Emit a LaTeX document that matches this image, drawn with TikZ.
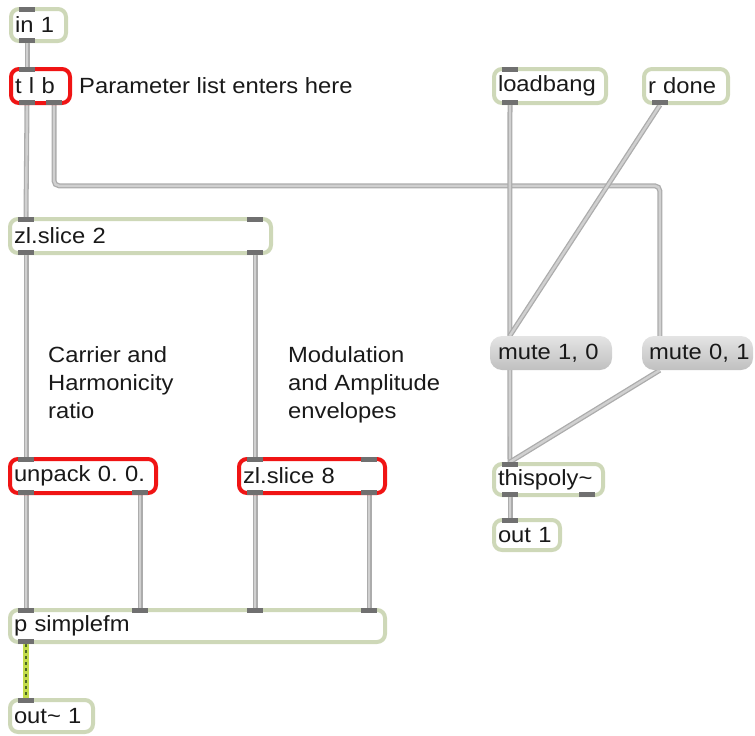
\documentclass[tikz,border=0pt]{standalone}
\usepackage{fontspec}
\setmainfont{Liberation Sans}[FakeStretch=1.08]
\usetikzlibrary{calc}
\pgfdeclarelayer{bg}
\pgfsetlayers{bg,main}
\definecolor{objedge}{RGB}{206,216,184}
\definecolor{redge}{RGB}{240,20,20}
\definecolor{tabc}{RGB}{112,112,112}
\definecolor{cordedge}{RGB}{172,172,172}
\definecolor{cordfill}{RGB}{208,208,208}
\definecolor{sigbase}{RGB}{195,220,75}
\definecolor{sigdash}{RGB}{75,105,35}
\definecolor{msgtop}{RGB}{228,228,228}
\definecolor{msgbot}{RGB}{192,192,192}
\definecolor{txt}{RGB}{25,25,25}
\frenchspacing
\begin{document}
\begin{tikzpicture}[x=1pt,y=-1pt,
  every node/.style={font=\fontsize{22}{28}\selectfont\frenchspacing, text=txt},
  obj/.style={draw=objedge, line width=4pt, fill=white, rounded corners=8pt,
    inner xsep=4pt, inner ysep=0pt, align=left},
  redobj/.style={obj, draw=redge},
  msg/.style={rounded corners=12pt, top color=msgtop, bottom color=msgbot,
    inner xsep=8pt, inner ysep=0pt, align=left},
  tab/.style={rectangle, fill=tabc, draw=none, minimum width=16pt,
    minimum height=5pt, inner sep=0pt, outer sep=0pt},
  cord/.style={draw=cordedge, double=cordfill, double distance=2.4pt,
    line width=1.3pt, rounded corners=5pt},
  sigbg/.style={draw=sigbase, line width=5.5pt},
  sigfg/.style={draw=sigdash, line width=2.4pt, dash pattern=on 3pt off 3pt},
  cmt/.style={inner sep=0pt, align=left}
]
\useasboundingbox (0,0) rectangle (755,736);

% ---- object boxes
\node[obj, minimum width=55pt, minimum height=32pt, text width=47pt] (in1) at (38.5,25) {in 1};
\node[redobj, minimum width=59pt, minimum height=34pt, text width=51pt] (tlb) at (40.5,86) {t l b};
\node[obj, minimum width=112pt, minimum height=34pt, text width=104pt] (loadbang) at (550,86) {loadbang};
\node[obj, minimum width=84pt, minimum height=34pt, text width=76pt] (rdone) at (686,86) {r done};
\node[obj, minimum width=261pt, minimum height=34pt, text width=253pt] (zl2) at (140.5,236) {zl.slice 2};
\node[msg, minimum width=122pt, minimum height=34pt, text width=106pt] (mute10) at (551,353) {\mbox{mute 1, 0}};
\node[msg, minimum width=111pt, minimum height=34pt, inner xsep=7pt, text width=97pt] (mute01) at (697.5,353) {\mbox{mute 0, 1}};
\node[redobj, minimum width=146pt, minimum height=34pt, text width=138pt] (unpack) at (83,476) {unpack 0. 0.};
\node[redobj, minimum width=146pt, minimum height=34pt, text width=138pt] (zl8) at (312,476) {zl.slice 8};
\node[obj, minimum width=109pt, minimum height=31pt, text width=101pt] (thispoly) at (548.5,479.5) {thispoly\textasciitilde};
\node[obj, minimum width=66pt, minimum height=30pt, text width=58pt] (out1) at (527,535) {out 1};
\node[obj, minimum width=375pt, minimum height=32pt, text width=367pt] (psfm) at (197.5,626) {p simplefm};
\node[obj, minimum width=83pt, minimum height=32pt, text width=75pt] (outsig) at (51.5,716) {out\textasciitilde\ 1};

% ---- comments
\node[cmt, anchor=base west] (c1) at (79,93) {Parameter list enters here};
\node[cmt, anchor=north west] (c2) at (48,346) {Carrier and\\Harmonicity\\ratio};
\node[cmt, anchor=north west] (c3) at (288,346) {Modulation\\and Amplitude\\envelopes};

% ---- inlets / outlets
\node[tab] (in1-i) at (27,9.5) {};
\node[tab] (in1-o) at (27,40.5) {};
\node[tab] (tlb-i) at (27,69.5) {};
\node[tab] (tlb-o1) at (27,102.5) {};
\node[tab] (tlb-o2) at (54,102.5) {};
\node[tab] (lb-i) at (510,69.5) {};
\node[tab] (lb-o) at (510,102.5) {};
\node[tab] (rd-o) at (660,102.5) {};
\node[tab] (zl2-i1) at (26,219.5) {};
\node[tab] (zl2-i2) at (255,219.5) {};
\node[tab] (zl2-o1) at (26,252.5) {};
\node[tab] (zl2-o2) at (255,252.5) {};
\node[tab] (up-i) at (26,459.5) {};
\node[tab] (up-o1) at (26,492.5) {};
\node[tab] (up-o2) at (140,492.5) {};
\node[tab] (zl8-i1) at (255,459.5) {};
\node[tab] (zl8-i2) at (369,459.5) {};
\node[tab] (zl8-o1) at (255,492.5) {};
\node[tab] (zl8-o2) at (369,492.5) {};
\node[tab] (ps-i1) at (26,610.5) {};
\node[tab] (ps-i2) at (140,610.5) {};
\node[tab] (ps-i3) at (255,610.5) {};
\node[tab] (ps-i4) at (369,610.5) {};
\node[tab] (ps-o) at (26,641.5) {};
\node[tab] (os-i) at (26,700.5) {};
\node[tab] (tp-i) at (510,464.5) {};
\node[tab] (tp-o1) at (510,494.5) {};
\node[tab] (tp-o2) at (587,494.5) {};
\node[tab] (o1-i) at (510,520.5) {};

% ---- cords
\begin{pgfonlayer}{bg}
\draw[cord] (in1-o.south) -- (tlb-i.north);
\draw[cord] (tlb-o1.south) -- (zl2-i1.north);
\draw[cord] (tlb-o2.south) |- ([xshift=18pt,yshift=150pt]mute01.north west) -- ([xshift=18pt]mute01.north west);
\draw[cord] (lb-o.south) -- ([xshift=20pt]mute10.north west);
\draw[cord] (rd-o.south) -- ([xshift=20pt]mute10.north west);
\draw[cord] (zl2-o1.south) -- (up-i.north);
\draw[cord] (zl2-o2.south) -- (zl8-i1.north);
\draw[cord] (up-o1.south) -- (ps-i1.north);
\draw[cord] (up-o2.south) -- (ps-i2.north);
\draw[cord] (zl8-o1.south) -- (ps-i3.north);
\draw[cord] (zl8-o2.south) -- (ps-i4.north);
\draw[cord] ([xshift=20pt]mute10.south west) -- (tp-i.north);
\draw[cord] ([xshift=18pt]mute01.south west) -- (tp-i.north);
\draw[cord] (tp-o1.south) -- (o1-i.north);
\draw[sigbg] (ps-o.south) -- (os-i.north);
\draw[sigfg] (ps-o.south) -- (os-i.north);
\end{pgfonlayer}
\end{tikzpicture}
\end{document}
